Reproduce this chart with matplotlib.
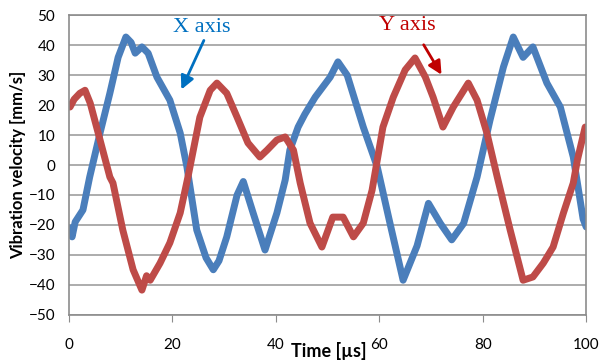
import numpy as np
import matplotlib.pyplot as plt

# X axis vibration (blue)
t_x = [0.2, 0.6, 1.2, 2.7, 4.0, 6.0, 7.9, 9.5, 11.0, 12.0, 12.8, 14.1, 15.3, 17.0,
       19.5, 21.5, 22.8, 24.7, 26.5, 27.9, 29.0, 30.5, 32.5, 33.7, 35.6, 37.9, 40.2, 41.8,
       42.7, 44.3, 45.6, 47.6, 50.5, 52.0, 53.8, 56.9, 59.6, 62.0, 64.6, 67.3, 69.5,
       71.8, 74.0, 76.3, 78.9, 81.4, 84.0, 85.9, 87.8, 89.7, 92.4, 95.0, 97.5, 99.4, 100.0]
v_x = [-21, -24, -19, -15, -4, 10.7, 24, 36, 42.8, 41, 37.4, 39.5, 37.4, 29.4,
       21.7, 10.7, -0.6, -21.7, -31, -35, -32, -24, -10, -5.5, -16, -28.4, -16, -5,
       5, 12.7, 17, 22.7, 29.4, 34.5, 30, 12.7, -0.6, -19, -38.5, -27, -12.8,
       -19.5, -25, -19.5, -4, 15, 32.8, 42.8, 36, 39.5, 27.4, 19.4, 2.7, -18, -20.7]

# Y axis vibration (red)
t_y = [0.2, 1.0, 2.1, 3.1, 4.1, 6.0, 7.9, 8.5, 10.4, 12.4, 14.1, 15.0, 15.7, 17.6,
       19.5, 21.5, 23.0, 25.3, 27.3, 28.6, 30.5, 32.5, 34.6, 36.9, 38.3, 40.2, 41.8,
       43.4, 44.7, 46.6, 48.9, 51.0, 53.0, 55.0, 56.9, 58.6, 60.7, 62.7, 65.0, 66.9,
       68.9, 70.4, 72.3, 74.3, 77.2, 78.9, 80.8, 82.8, 85.3, 87.8, 89.7, 91.7, 93.6,
       95.6, 97.5, 98.3, 99.8]
v_y = [19.4, 22, 24, 25, 20.7, 8.4, -4, -6, -21.7, -35, -41.8, -37, -38.5, -32.8,
       -26, -16, -4, 16, 25, 27.4, 24, 16, 7.4, 2.7, 5, 8.4, 9.4,
       5, -6, -19.4, -27.4, -17.4, -17.4, -24, -19.4, -8.4, 12.7, 22.7, 31.8, 35.8,
       29.4, 22.7, 12.7, 19.4, 27.4, 21.7, 10.7, -4, -21.7, -38.5, -37.4, -32.8, -27.4,
       -16, -6, 1.7, 12.7]

blue = '#4A7EBB'
red = '#BE4B48'
grid_c = '#A6A6A6'

fig = plt.figure(figsize=(6, 3.6), dpi=100)
ax = fig.add_axes([0.115, 0.126, 0.862, 0.831])

ax.plot(t_x, v_x, color=blue, lw=5, solid_joinstyle='round', solid_capstyle='round')
ax.plot(t_y, v_y, color=red, lw=5, solid_joinstyle='round', solid_capstyle='round')

ax.set_xlim(0, 100)
ax.set_ylim(-50, 50)
ax.set_xticks(np.arange(0, 101, 20))
ax.set_yticks(np.arange(-50, 51, 10))
ax.yaxis.grid(True, color=grid_c, lw=1.3)
ax.set_axisbelow(True)
for s in ax.spines.values():
    s.set_color('#8C8C8C')
    s.set_linewidth(1.2)

tick_font = 'Lato'
ax.tick_params(axis='x', length=5, color='#8C8C8C', pad=12, labelsize=11)
ax.tick_params(axis='y', length=0, pad=10, labelsize=11)
for lab in ax.get_xticklabels() + ax.get_yticklabels():
    lab.set_fontfamily(tick_font)

ax.set_ylabel('Vibration velocity [mm/s]', fontsize=12, fontweight='bold',
              fontfamily=tick_font, labelpad=2)
ax.text(50.3, -62, 'Time [µs]', fontsize=13, fontweight='bold', fontfamily=tick_font,
        ha='center', va='center')

# annotations
ax.text(25.6, 46, 'X axis', color='#0070C0', fontsize=16, fontfamily='Liberation Serif',
        ha='center', va='center')
ax.annotate('', xy=(21.5, 24.4), xytext=(26.3, 42.5),
            arrowprops=dict(arrowstyle='-|>,head_length=0.8,head_width=0.4',
                            color='#0070C0', lw=2))
ax.text(65.5, 46.8, 'Y axis', color='#C00000', fontsize=16, fontfamily='Liberation Serif',
        ha='center', va='center')
ax.annotate('', xy=(72.3, 29.4), xytext=(68.3, 41),
            arrowprops=dict(arrowstyle='-|>,head_length=0.8,head_width=0.4',
                            color='#C00000', lw=2))

fig.savefig('out.png', dpi=100)
